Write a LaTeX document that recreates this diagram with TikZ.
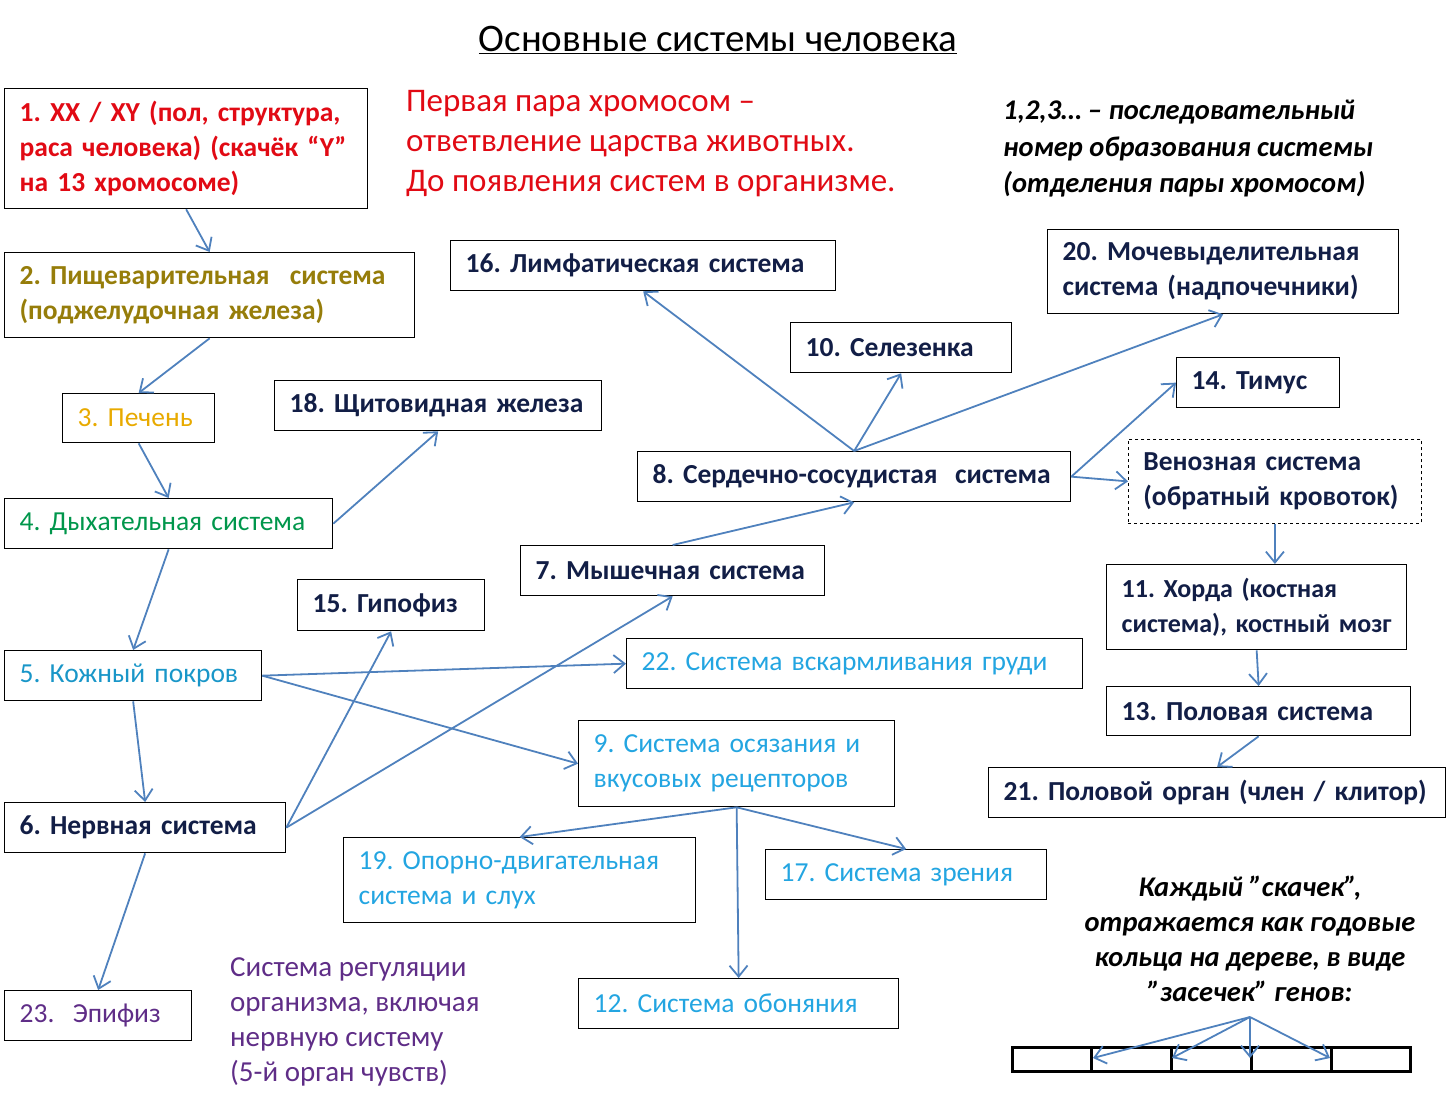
\documentclass[tikz,border=0pt]{standalone}
\usepackage{fontspec}
\setmainfont{Carlito}
\frenchspacing
\usetikzlibrary{arrows.meta}
\definecolor{linkblue}{RGB}{79,129,189}
\definecolor{chrred}{RGB}{225,10,20}
\definecolor{olivetxt}{RGB}{150,125,10}
\definecolor{goldtxt}{RGB}{232,170,0}
\definecolor{greentxt}{RGB}{0,150,75}
\definecolor{tealtxt}{RGB}{25,150,200}
\definecolor{navytxt}{RGB}{18,30,70}
\definecolor{skytxt}{RGB}{35,165,225}
\definecolor{purpletxt}{RGB}{95,45,135}

\begin{document}
\begin{tikzpicture}[x=1pt,y=-1pt,
  box/.style={draw,line width=1.3pt,anchor=north west,inner xsep=15pt,inner ysep=0pt,
    align=left,text=navytxt,font=\fontsize{27.5}{35}\selectfont\bfseries},
  lightface/.style={font=\fontsize{27.5}{35}\selectfont},
  link/.style={linkblue,line width=1.8pt,-{Straight Barb[length=11pt,width=18pt]}}]
\useasboundingbox (0,0) rectangle (1447,1100);
% title and notes
\node (title) at (718,40) {\fontsize{39}{44}\selectfont\underline{Основные системы человека}};
\node[anchor=north west,inner sep=0pt,align=left,text=chrred,font=\fontsize{33}{40}\selectfont] (origin) at (406,90)
  {Первая пара хромосом –\\ответвление царства животных.\\До появления систем в организме.};
\node[anchor=north west,inner sep=0pt,align=left,font=\fontsize{28.5}{36.5}\selectfont\bfseries\itshape] (legend) at (1003,100)
  {1,2,3… – последовательный\\номер образования  системы\\(отделения пары хромосом)};
\node[anchor=north west,inner sep=0pt,align=left,text=purpletxt,font=\fontsize{29}{35.3}\selectfont] (regul) at (230,957)
  {Система регуляции\\организма, включая\\нервную систему\\(5-й орган чувств)};
\node[anchor=north,inner sep=0pt,align=center,font=\fontsize{28.5}{35}\selectfont\bfseries\itshape] (rings) at (1250,876)
  {Каждый "скачек",\\отражается как годовые\\кольца на дереве, в виде\\"засечек" генов:};
% boxes
\node[box,text=chrred,text width=333pt,minimum height=120pt] (s1) at (4,88)
  {1. XX / XY (пол, структура,\\раса человека) (скачёк “Y”\\на 13 хромосоме)};
\node[box,text=olivetxt,text width=380pt,minimum height=85pt] (s2) at (4,252)
  {2. Пищеварительная\hspace{0.4em} система\\(поджелудочная железа)};
\node[box,lightface,text=goldtxt,text width=122pt,minimum height=49pt] (s3) at (62,393) {3. Печень};
\node[box,lightface,text=greentxt,text width=298pt,minimum height=50pt] (s4) at (4,498) {4. Дыхательная система};
\node[box,lightface,text=tealtxt,text width=227pt,minimum height=50pt] (s5) at (4,650) {5. Кожный покров};
\node[box,text width=251pt,minimum height=50pt] (s6) at (4,802) {6. Нервная система};
\node[box,lightface,text=purpletxt,text width=157pt,minimum height=50pt] (s23) at (4,990) {23.~ Эпифиз};
\node[box,text width=297pt,minimum height=50pt] (s18) at (274,380) {18. Щитовидная железа};
\node[box,text width=157pt,minimum height=51pt] (s15) at (297,579) {15. Гипофиз};
\node[box,text width=355pt,minimum height=50pt] (s16) at (450,240) {16. Лимфатическая система};
\node[box,text width=191pt,minimum height=50pt] (s10) at (790,322) {10. Селезенка};
\node[box,text width=321pt,minimum height=84pt] (s20) at (1047,229) {20. Мочевыделительная\\система (надпочечники)};
\node[box,text width=133pt,minimum height=50pt] (s14) at (1176,357) {14. Тимус};
\node[box,text width=403pt,minimum height=50pt] (s8) at (637,451) {8. Сердечно-сосудистая\hspace{0.3em} система};
\node[box,dashed,line width=0.8pt,text width=263pt,minimum height=84pt] (ven) at (1128,439)
  {Венозная система\\(обратный кровоток)};
\node[box,text width=274pt,minimum height=50pt] (s7) at (520,545) {7. Мышечная система};
\node[box,font=\fontsize{26}{35}\selectfont\bfseries,text width=270pt,minimum height=85pt] (s11) at (1106,564)
  {\mbox{11. Хорда (костная}\\\mbox{система), костный мозг}};
\node[box,lightface,text=skytxt,text width=426pt,minimum height=50pt] (s22) at (626,638) {22. Система вскармливания груди};
\node[box,text width=274pt,minimum height=49pt] (s13) at (1106,686) {13. Половая система};
\node[box,lightface,text=skytxt,text width=286pt,minimum height=86pt] (s9) at (578,720)
  {9. Система осязания и\\вкусовых рецепторов};
\node[box,text width=427pt,minimum height=50pt] (s21) at (988,767) {\mbox{21. Половой орган (член / клитор)}};
\node[box,lightface,text=skytxt,text width=322pt,minimum height=85pt] (s19) at (343,837)
  {19. Опорно-двигательная\\система и слух};
\node[box,lightface,text=skytxt,text width=251pt,minimum height=50pt] (s17) at (765,849) {17. Система зрения};
\node[box,lightface,text=skytxt,text width=290pt,minimum height=50pt] (s12) at (578,978) {12. Система обоняния};
% links
\draw[link] (s1.south) -- (s2.north);
\draw[link] (s2.south) -- (s3.north);
\draw[link] (s3.south) -- (s4.north);
\draw[link] (s4.east) -- (s18.south);
\draw[link] (s4.south) -- (s5.north);
\draw[link] (s5.south) -- (s6.north);
\draw[link] (s5.east) -- (s22.west);
\draw[link] (s5.east) -- (s9.west);
\draw[link] (s6.east) -- (s15.south);
\draw[link] (s6.east) -- (s7.south);
\draw[link] (s6.south) -- (s23.north);
\draw[link] (s7.north) -- (s8.south);
\draw[link] (s8.north) -- (s16.south);
\draw[link] (s8.north) -- (s10.south);
\draw[link] (s8.north) -- (s20.south);
\draw[link] (s8.east) -- (s14.west);
\draw[link] (s8.east) -- (ven.west);
\draw[link] (ven.south) -- (s11.north -| ven.south);
\draw[link] (s11.south) -- (s13.north);
\draw[link] (s13.south) -- (s21.north);
\draw[link] (s9.south) -- (s19.north);
\draw[link] (s9.south) -- (s12.north);
\draw[link] (s9.south) -- (s17.north);
% gene bar
\draw[line width=3pt] (1012,1047) rectangle (1410,1071);
\foreach \x in {1091,1171,1251,1331} {\draw[line width=3pt] (\x,1047)--(\x,1071);}
\coordinate (notch) at (1250,1017);
\foreach \x in {1093,1172,1250,1330} {\draw[link] (notch) -- (\x,1058);}
\end{tikzpicture}
\end{document}
